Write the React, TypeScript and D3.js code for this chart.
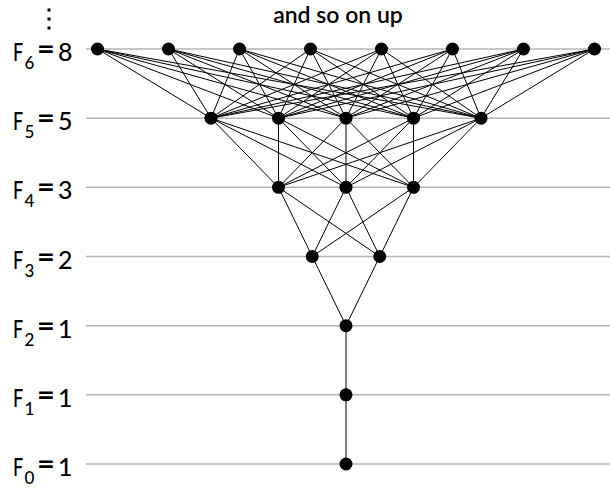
import React from "react";
import * as d3 from "d3";

const levels = [0, 1, 2, 3, 4, 5, 6];
const fibValues = [1, 1, 1, 2, 3, 5, 8];
const titleText = "and so on up";

const W = 610;
const H = 488;

export default function App() {
  const y = d3.scaleLinear().domain([0, 6]).range([464, 49]);
  const cx = 346;
  const spacingFor = (lvl: number) => (lvl === 6 ? 71 : 67.5);
  const xFor = (lvl: number, i: number) => {
    const n = fibValues[lvl];
    const s = spacingFor(lvl);
    const sc = d3
      .scaleLinear()
      .domain([0, Math.max(n - 1, 1)])
      .range([cx - ((n - 1) / 2) * s, cx + ((n - 1) / 2) * s]);
    return n === 1 ? cx : sc(i);
  };

  const nodes = levels.flatMap((lvl) =>
    d3.range(fibValues[lvl]).map((i) => ({ lvl, i, x: xFor(lvl, i), y: y(lvl) }))
  );
  const edges: { x1: number; y1: number; x2: number; y2: number }[] = [];
  levels.slice(0, -1).forEach((lvl) => {
    d3.range(fibValues[lvl]).forEach((i) => {
      d3.range(fibValues[lvl + 1]).forEach((j) => {
        edges.push({
          x1: xFor(lvl, i),
          y1: y(lvl),
          x2: xFor(lvl + 1, j),
          y2: y(lvl + 1),
        });
      });
    });
  });

  const font = "Lato, 'Open Sans', sans-serif";

  return (
    <svg width={W} height={H} style={{ position: "absolute", left: 0, top: 0, background: "#fff" }}>
      {levels.map((lvl) => (
        <line key={"g" + lvl} x1={86} x2={W} y1={y(lvl)} y2={y(lvl)} stroke="#b4b4b4" strokeWidth={1.5} />
      ))}
      {edges.map((e, k) => (
        <line key={"e" + k} x1={e.x1} y1={e.y1} x2={e.x2} y2={e.y2} stroke="#000" strokeWidth={1} />
      ))}
      {nodes.map((n, k) => (
        <circle key={"n" + k} cx={n.x} cy={n.y} r={6.5} fill="#000" />
      ))}
      {levels.map((lvl) => (
        <g key={"l" + lvl} fontFamily={font} fill="#000" fontWeight={500}>
          <text transform={`translate(13,${y(lvl) + 12}) scale(0.72,1)`} fontSize={25}>
            F
          </text>
          <text x={24.5} y={y(lvl) + 20} fontSize={17}>
            {lvl}
          </text>
          <text transform={`translate(37,${y(lvl) + 10}) scale(1.1,1)`} fontSize={28} fontWeight={700}>
            =
          </text>
          <text x={58} y={y(lvl) + 12} fontSize={25}>
            {String(fibValues[lvl])}
          </text>
        </g>
      ))}
      <text x={338} y={23} textAnchor="middle" fontFamily={font} fontSize={23} fontWeight={600} fill="#000">
        {titleText}
      </text>
      {[10, 19, 28].map((dy, k) => (
        <rect key={"d" + k} x={47.5} y={dy - 1.5} width={3} height={3} fill="#000" />
      ))}
    </svg>
  );
}
